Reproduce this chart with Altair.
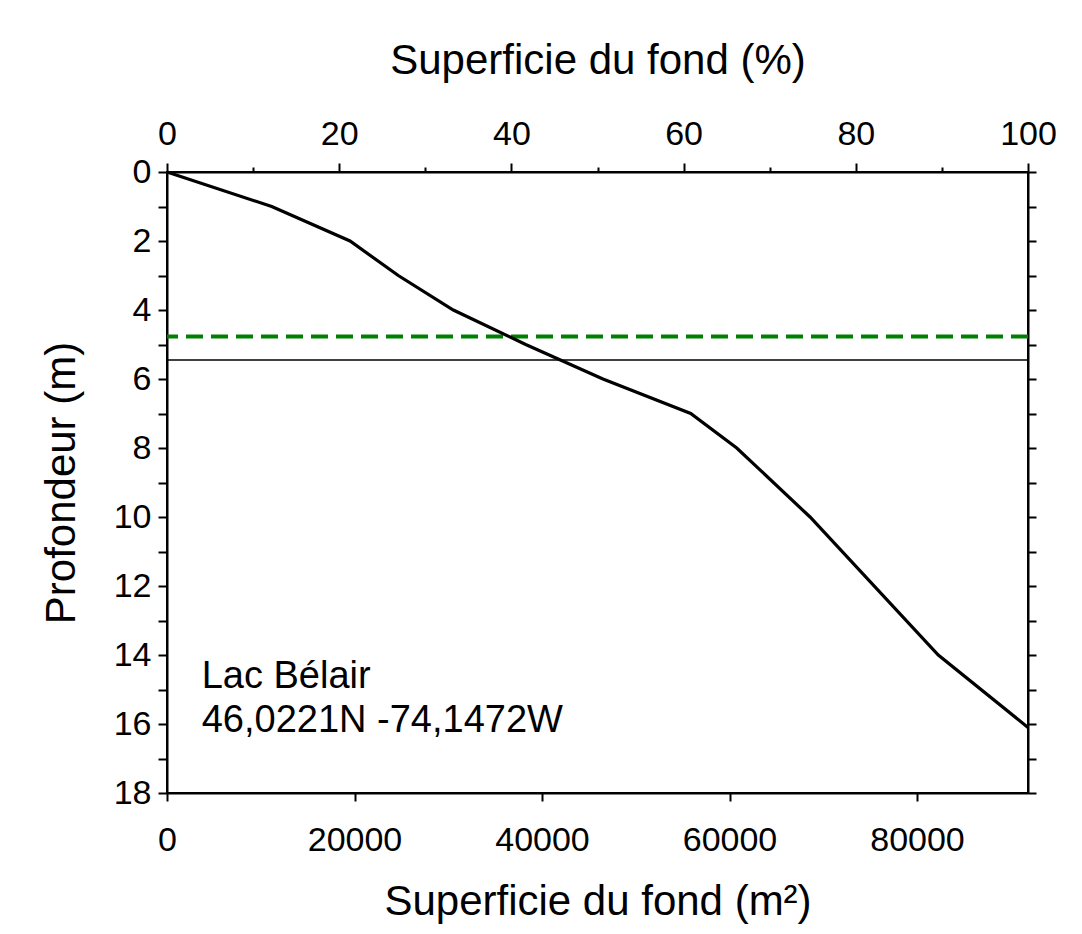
import altair as alt
import pandas as pd

# ---- data ----
depth_m = [0, 1, 2, 3, 4, 5, 6, 7, 8, 10, 14, 16.1]
area_m2 = [0, 11170, 19520, 24670, 30540, 38260, 46500, 55860, 60770, 68590, 82270, 91840]
total_area = 91840
pct = [a / total_area * 100 for a in area_m2]

green_depth = [4.77]
black_depth = [5.45]
label_lines = ["Lac Bélair", "46,0221N -74,1472W"]
label_area = [3700]
label_depth = [14.96]

x_ticks = [0, 20000, 40000, 60000, 80000]
pct_ticks = list(range(0, 101, 10))
depth_ticks = list(range(0, 19))

FONT = "Liberation Sans"

df = pd.DataFrame({"area": area_m2, "depth": depth_m, "pct": pct})

y_scale = alt.Scale(domain=[0, 18], reverse=True, nice=False, zero=False)
x_scale = alt.Scale(domain=[0, total_area], nice=False)

main_line = alt.Chart(df).mark_line(color="black", strokeWidth=3.2).encode(
    x=alt.X("area:Q", scale=x_scale,
            axis=alt.Axis(orient="bottom", values=x_ticks, format="d",
                          title="Superficie du fond (m²)", tickSize=8,
                          labelPadding=22, titlePadding=24, labelFlush=False,
                          labelOverlap=False)),
    y=alt.Y("depth:Q", scale=y_scale,
            axis=alt.Axis(orient="left", values=depth_ticks,
                          labelExpr="datum.value % 2 === 0 ? datum.label : ''",
                          title="Profondeur (m)", tickSize=9, labelPadding=7,
                          titlePadding=30, labelOverlap=False, labelFlush=False)),
    order="depth:Q",
)

green_rule = alt.Chart(pd.DataFrame({"depth": green_depth})).mark_rule(
    color="#008000", strokeWidth=4, strokeDash=[17, 8]
).encode(y=alt.Y("depth:Q", scale=y_scale, axis=None))

black_rule = alt.Chart(pd.DataFrame({"depth": black_depth})).mark_rule(
    color="black", strokeWidth=1.5
).encode(y=alt.Y("depth:Q", scale=y_scale, axis=None))

label = alt.Chart(pd.DataFrame({"area": label_area, "depth": label_depth,
                                "text": ["\n".join(label_lines)]})).mark_text(
    align="left", baseline="alphabetic", fontSize=38, font=FONT,
    lineBreak="\n", lineHeight=44, color="black"
).encode(
    x=alt.X("area:Q", scale=x_scale, axis=None),
    y=alt.Y("depth:Q", scale=y_scale, axis=None),
    text="text:N",
)

pct_layer = alt.Chart(df).mark_line(opacity=0).encode(
    x=alt.X("pct:Q", scale=alt.Scale(domain=[0, 100], nice=False),
            axis=alt.Axis(orient="top", values=pct_ticks,
                          labelExpr="datum.value % 20 === 0 ? datum.label : ''",
                          tickSize={"condition": {"test": "datum.value % 20 === 0", "value": 9}, "value": 5},
                          title="Superficie du fond (%)", labelFlush=False,
                          labelOverlap=False, labelPadding=12, titlePadding=35)),
    y=alt.Y("depth:Q", scale=y_scale,
            axis=alt.Axis(orient="right", values=depth_ticks, labels=False,
                          tickSize=8, title=None)),
)

chart = alt.layer(black_rule, green_rule, main_line, label, pct_layer).resolve_scale(
    x="independent"
).resolve_axis(
    x="independent", y="independent"
).properties(
    width=861, height=621,
    autosize=alt.AutoSizeParams(type="none"),
    padding={"left": 159, "top": 164, "right": 46, "bottom": 133},
    background="white",
).configure_view(
    stroke="black", strokeWidth=2
).configure_axis(
    labelFont=FONT, labelFontSize=34, labelColor="black",
    titleFont=FONT, titleFontSize=42, titleFontWeight="normal", titleColor="black",
    domainColor="black", domainWidth=2, tickColor="black", tickWidth=2, grid=False,
)

chart.save("out.html", embed_options={"renderer": "svg", "actions": False})
